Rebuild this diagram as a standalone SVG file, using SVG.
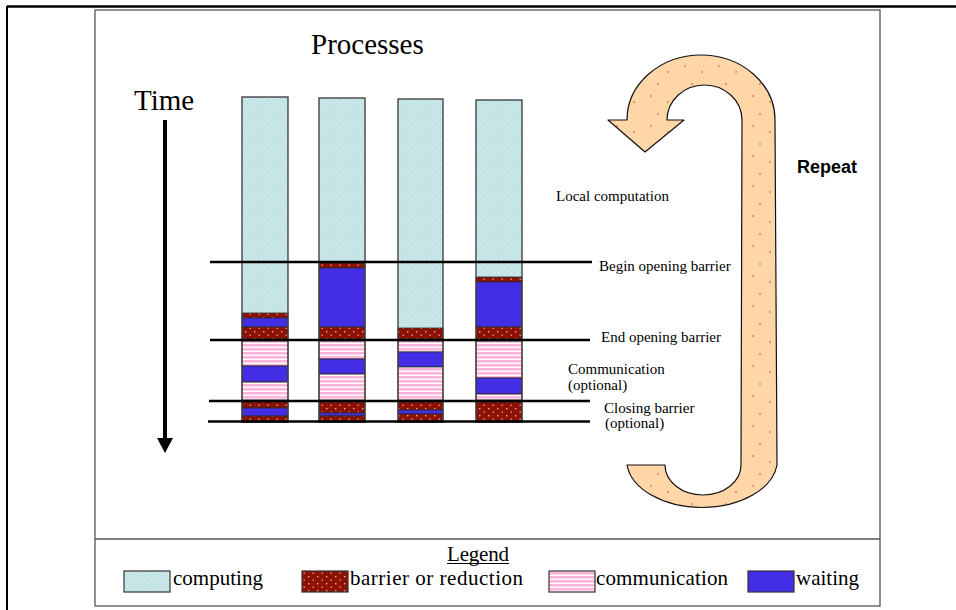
<svg xmlns="http://www.w3.org/2000/svg" width="956" height="610" viewBox="0 0 956 610">
<defs>
<pattern id="pComp" width="6" height="6" patternUnits="userSpaceOnUse">
<rect width="6" height="6" fill="#c6e8e8"/>
<rect x="1" y="1" width="1" height="1" fill="#b6ccd0"/>
<rect x="4" y="2" width="1" height="1" fill="#cbc6d2"/>
<rect x="2" y="4" width="1" height="1" fill="#b8cfd3"/>
<rect x="5" y="5" width="1" height="1" fill="#c0cad4"/>
</pattern>
<pattern id="pBar" width="9" height="7" patternUnits="userSpaceOnUse">
<rect width="9" height="7" fill="#8e1204"/>
<rect x="2" y="2" width="1.4" height="1.4" fill="#e8a8a8"/>
<rect x="6.5" y="5.5" width="1.4" height="1.4" fill="#d89898"/>
</pattern>
<pattern id="pComm" width="6" height="4" patternUnits="userSpaceOnUse">
<rect width="6" height="4" fill="#ffffff"/>
<rect width="6" height="2.6" fill="#ffb4dc"/>
</pattern>
<pattern id="pArrow" width="34" height="30" patternUnits="userSpaceOnUse">
<rect width="34" height="30" fill="#fed6a8"/>
<circle cx="5" cy="6" r="0.8" fill="#d04020"/>
<circle cx="22" cy="12" r="0.8" fill="#d04020"/>
<circle cx="12" cy="24" r="0.8" fill="#d04020"/>
</pattern>
</defs>
<style>
.serif{font-family:"Liberation Serif","Times New Roman",serif;fill:#000}
.lbl{font-size:15px}
.big{font-size:29px}
.leg{font-size:21px}
.comp{fill:url(#pComp)}
.bar{fill:url(#pBar)}
.comm{fill:url(#pComm)}
.wait{fill:#432ee6}
.seg{stroke:#2a2a2a;stroke-width:0.8}
.outline{fill:none;stroke:#444;stroke-width:1.4}
.hline{stroke:#000;stroke-width:2.4}
.swatch{stroke:#333;stroke-width:1.2}
</style>
<rect width="956" height="610" fill="#fff"/>
<g id="frame">
<line x1="7" y1="6.5" x2="956" y2="6.5" stroke="#000" stroke-width="2.5"/>
<line x1="7" y1="6" x2="7" y2="610" stroke="#000" stroke-width="2"/>
<rect x="95" y="10" width="785" height="596" fill="none" stroke="#555" stroke-width="1.3"/>
<line x1="95" y1="539" x2="880" y2="539" stroke="#555" stroke-width="1.3"/>
</g>
<g id="title"><text class="serif big" x="311" y="54">Processes</text></g>
<g id="time-axis">
<text class="serif big" x="134" y="110">Time</text>
<line x1="165" y1="120" x2="165" y2="440" stroke="#000" stroke-width="4"/>
<polygon points="157,438 173,438 165,453" fill="#000"/>
</g>
<g id="process-1">
<rect class="comp" x="242" y="97" width="46" height="216"/>
<rect class="bar seg" x="242" y="313" width="46" height="5"/>
<rect class="wait seg" x="242" y="318" width="46" height="9"/>
<rect class="bar seg" x="242" y="327" width="46" height="12"/>
<rect class="comm seg" x="242" y="341" width="46" height="25"/>
<rect class="wait seg" x="242" y="366" width="46" height="16"/>
<rect class="comm seg" x="242" y="382" width="46" height="18"/>
<rect class="bar seg" x="242" y="402" width="46" height="6"/>
<rect class="wait seg" x="242" y="408" width="46" height="8"/>
<rect class="bar seg" x="242" y="416" width="46" height="6"/>
<rect class="outline" x="242" y="97" width="46" height="325"/>
</g>
<g id="process-2">
<rect class="comp" x="319" y="98" width="46" height="165"/>
<rect class="bar seg" x="319" y="263" width="46" height="5"/>
<rect class="wait seg" x="319" y="268" width="46" height="59"/>
<rect class="bar seg" x="319" y="327" width="46" height="12"/>
<rect class="comm seg" x="319" y="341" width="46" height="18"/>
<rect class="wait seg" x="319" y="359" width="46" height="15"/>
<rect class="comm seg" x="319" y="374" width="46" height="26"/>
<rect class="bar seg" x="319" y="402" width="46" height="11"/>
<rect class="wait seg" x="319" y="413" width="46" height="3"/>
<rect class="bar seg" x="319" y="416" width="46" height="6"/>
<rect class="outline" x="319" y="98" width="46" height="324"/>
</g>
<g id="process-3">
<rect class="comp" x="398" y="99" width="45" height="229"/>
<rect class="bar seg" x="398" y="328" width="45" height="11"/>
<rect class="comm seg" x="398" y="341" width="45" height="11"/>
<rect class="wait seg" x="398" y="352" width="45" height="15"/>
<rect class="comm seg" x="398" y="367" width="45" height="33"/>
<rect class="bar seg" x="398" y="402" width="45" height="8"/>
<rect class="wait seg" x="398" y="410" width="45" height="4"/>
<rect class="bar seg" x="398" y="414" width="45" height="8"/>
<rect class="outline" x="398" y="99" width="45" height="323"/>
</g>
<g id="process-4">
<rect class="comp" x="476" y="100" width="46" height="177"/>
<rect class="bar seg" x="476" y="277" width="46" height="5"/>
<rect class="wait seg" x="476" y="282" width="46" height="45"/>
<rect class="bar seg" x="476" y="327" width="46" height="12"/>
<rect class="comm seg" x="476" y="341" width="46" height="37"/>
<rect class="wait seg" x="476" y="378" width="46" height="16"/>
<rect class="comm seg" x="476" y="394" width="46" height="6"/>
<rect class="bar seg" x="476" y="402" width="46" height="20"/>
<rect class="outline" x="476" y="100" width="46" height="322"/>
</g>
<g id="connectors">
<line class="hline" x1="210" y1="262" x2="592" y2="262"/>
<line class="hline" x1="210" y1="340" x2="590" y2="340"/>
<line class="hline" x1="209" y1="401" x2="590" y2="401"/>
<line class="hline" x1="208" y1="421.5" x2="590" y2="421.5"/>
</g>
<g id="labels">
<text class="serif lbl" x="556" y="201">Local computation</text>
<text class="serif lbl" x="599" y="271">Begin opening barrier</text>
<text class="serif lbl" x="601" y="342">End opening barrier</text>
<text class="serif lbl" x="568" y="374">Communication</text>
<text class="serif lbl" x="568" y="390">(optional)</text>
<text class="serif lbl" x="604" y="413">Closing barrier</text>
<text class="serif lbl" x="605" y="428">(optional)</text>
</g>
<g id="repeat">
<path d="M645,152 L608,120 L627,120 A74,65 0 0 1 775,120 L777,465 A75.5,48 0 0 1 627,465 L665,465 A38,30 0 0 0 741,465 L742,120 A37.5,35 0 0 0 667,120 L684,120 Z" fill="url(#pArrow)" stroke="#111" stroke-width="1.2" stroke-linejoin="round"/>
<text x="797" y="173" font-family="Liberation Sans, Arial, sans-serif" font-size="18" font-weight="bold" fill="#000">Repeat</text>
</g>
<g id="legend">
<text class="serif leg" x="447" y="561" textLength="62">Legend</text>
<line x1="447" y1="563.5" x2="509" y2="563.5" stroke="#000" stroke-width="1.2"/>
<rect class="comp swatch" x="124" y="571" width="46" height="21"/>
<text class="serif leg" x="173" y="585" textLength="90">computing</text>
<rect class="bar swatch" x="302" y="571" width="46" height="21"/>
<text class="serif leg" x="350" y="585" textLength="173">barrier or reduction</text>
<rect class="comm swatch" x="549" y="571" width="46" height="21"/>
<text class="serif leg" x="596" y="585" textLength="132">communication</text>
<rect class="wait swatch" x="748" y="571" width="46" height="21"/>
<text class="serif leg" x="796" y="585" textLength="63">waiting</text>
</g>
</svg>
